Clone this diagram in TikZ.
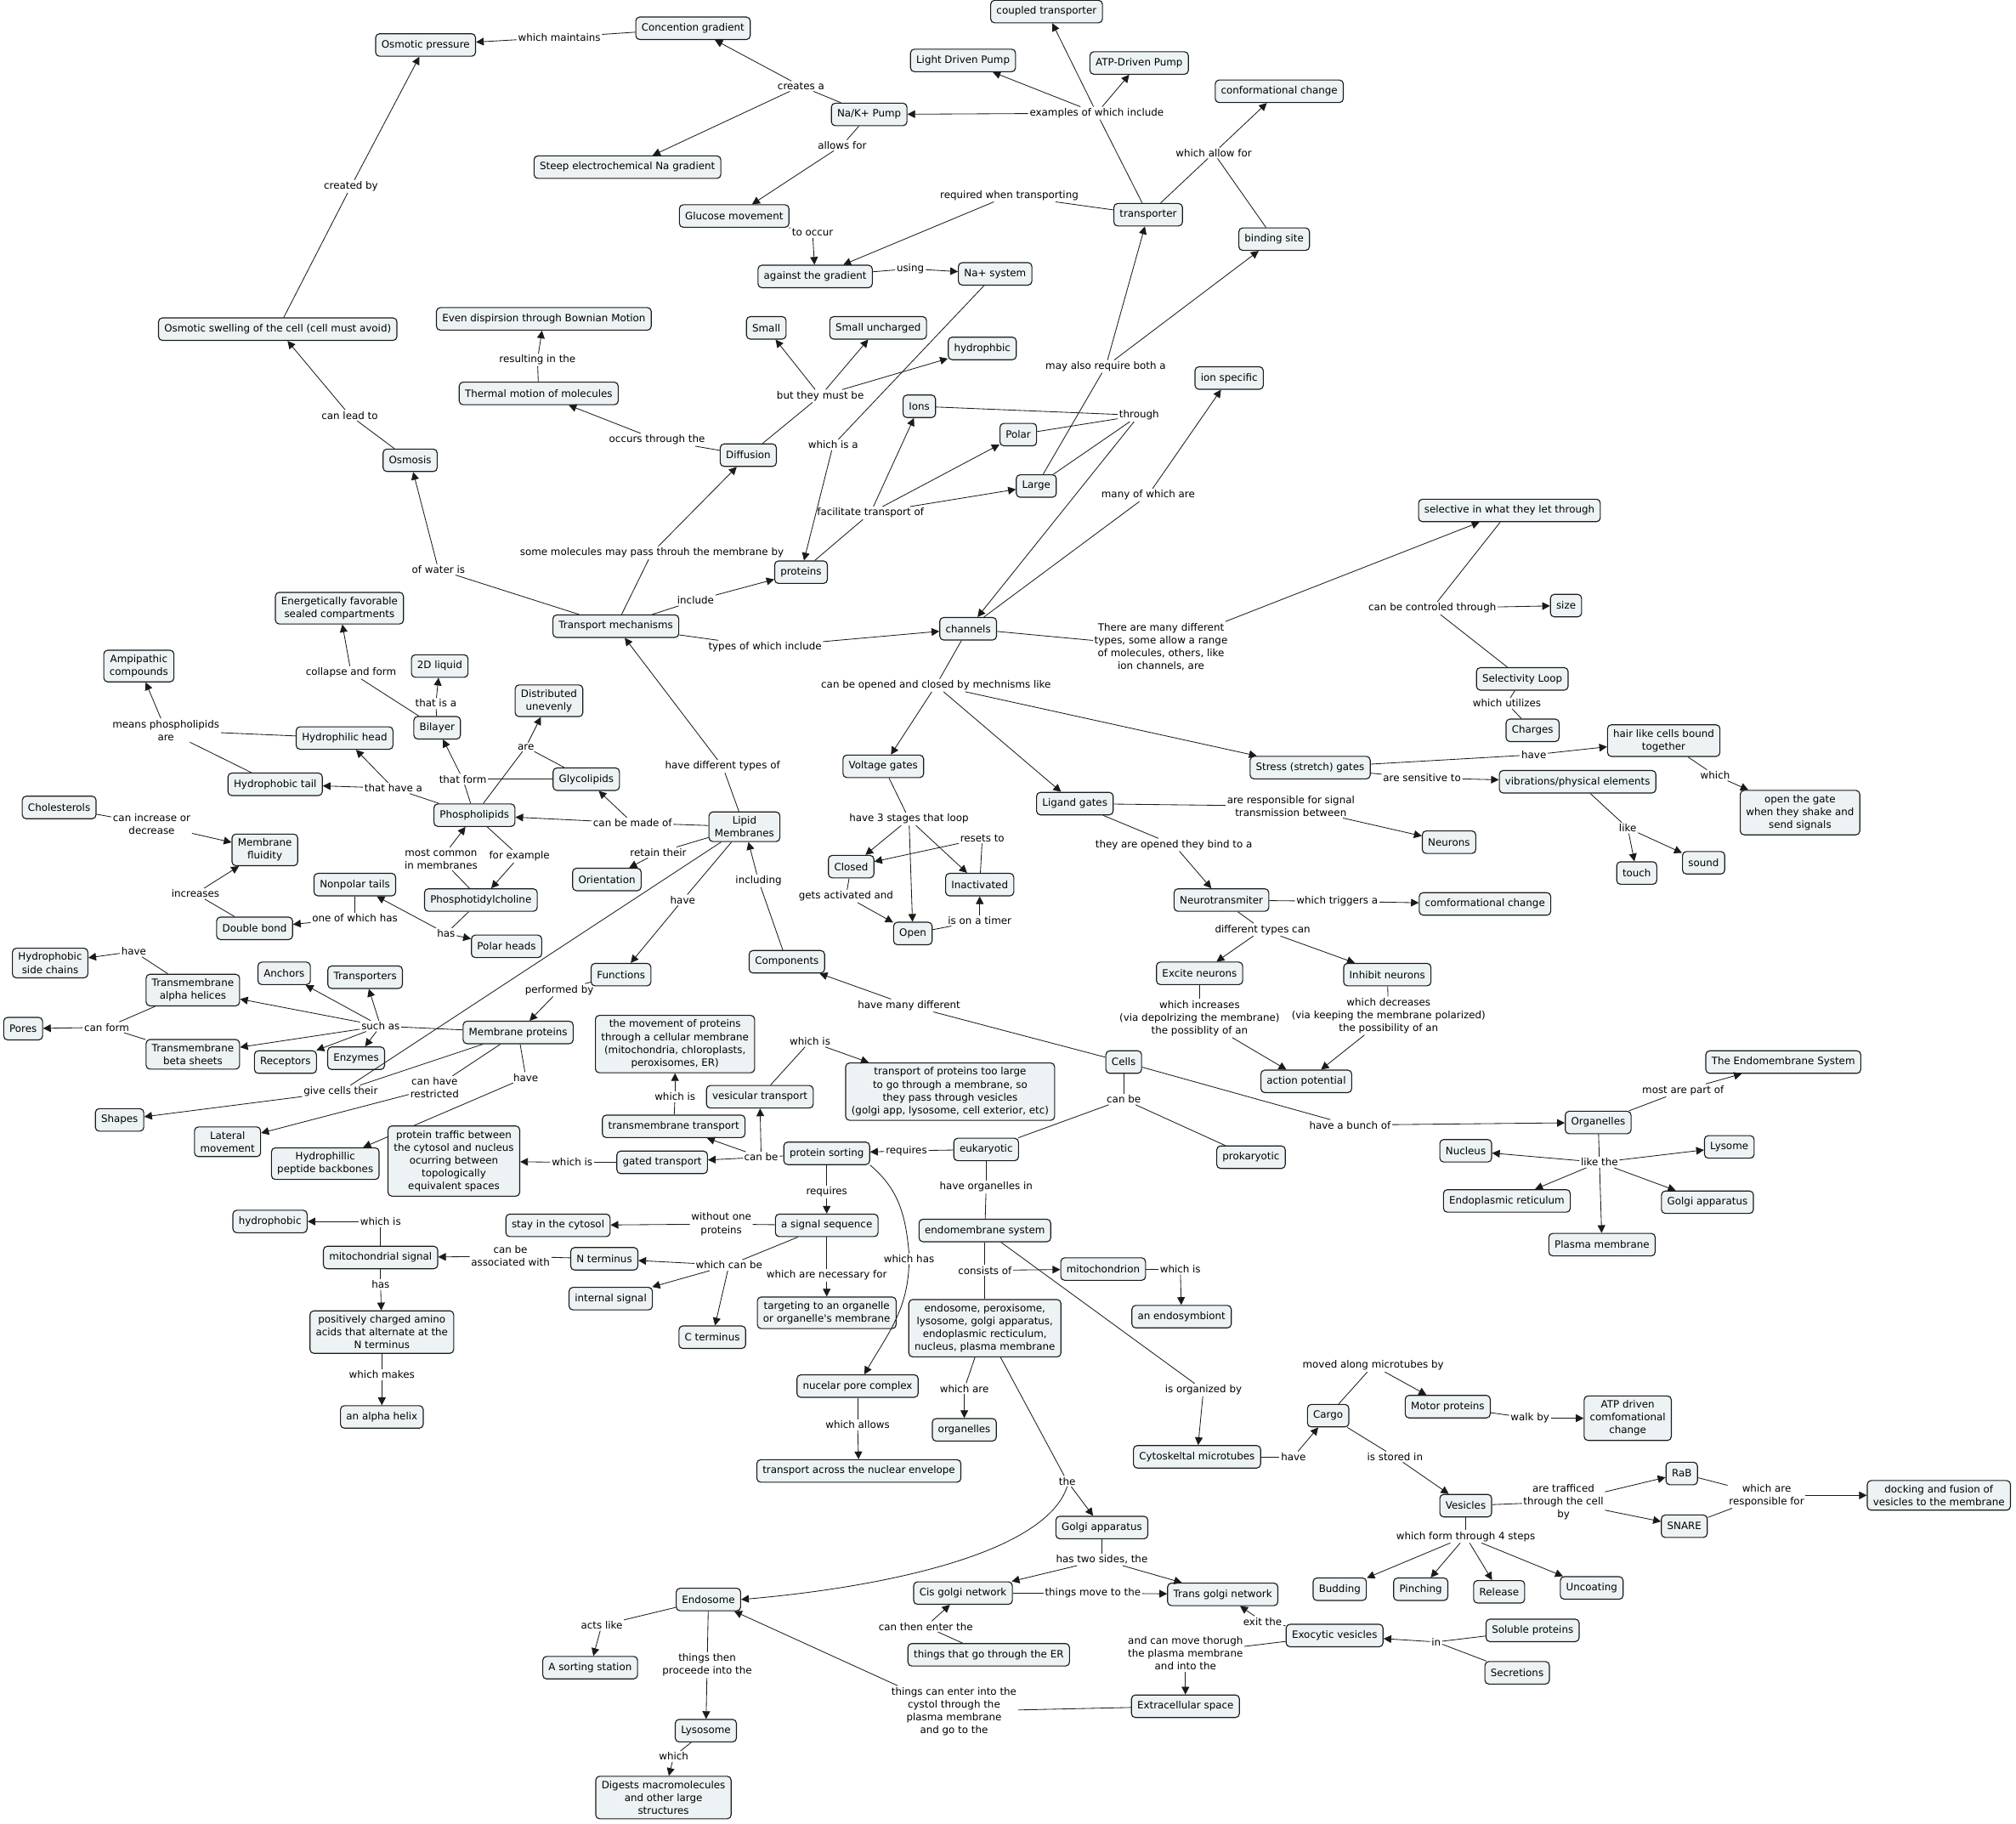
\documentclass[tikz,border=0pt]{standalone}
\usepackage{fontspec}
\usepackage{tikz}
\usetikzlibrary{arrows.meta,positioning}
\newfontfamily\cmapsans{DejaVu Sans}
\definecolor{cmapfill}{HTML}{EDF3F4}
\definecolor{cmapline}{HTML}{1A1A1A}
\tikzset{
  concept/.style={draw=cmapline, line width=0.75pt, rounded corners=3pt, fill=cmapfill,
    inner xsep=4.5pt, inner ysep=3.5pt, minimum height=17.5pt, align=center,
    font=\cmapsans\fontsize{7.85pt}{10pt}\selectfont},
  linkph/.style={inner sep=1pt, align=center, font=\cmapsans\fontsize{7.85pt}{10pt}\selectfont},
  conn/.style={draw=cmapline, line width=0.55pt},
  arr/.style={conn, -{Triangle[length=6pt,width=6pt]}}
}
\begin{document}
\begin{tikzpicture}[x=1pt,y=-1pt]
\useasboundingbox (0,0) rectangle (1568,1418);

% Pumps and gradients
\node[concept] (osmp) at (331,35) {Osmotic pressure};
\node[concept] (concg) at (539,22) {Concention gradient};
\node[concept] (coupt) at (814,9) {coupled transporter};
\node[concept] (ldp) at (749,47) {Light Driven Pump};
\node[concept] (atpp) at (886,49) {ATP-Driven Pump};
\node[concept] (confc) at (995,71) {conformational change};
\node[concept] (nakp) at (676,89) {Na/K+ Pump};
\node[concept] (steep) at (488,130) {Steep electrochemical Na gradient};
\node[concept] (gluc) at (571,168) {Glucose movement};
\node[concept] (trp) at (893,167) {transporter};
\node[concept] (binds) at (991,186) {binding site};
\node[concept] (agr) at (634,215) {against the gradient};
\node[concept] (nasys) at (774,213) {Na+ system};
\node[concept] (swell) at (216,256) {Osmotic swelling of the cell (cell must avoid)};
\node[concept] (evend) at (423,248) {Even dispirsion through Bownian Motion};
\node[concept] (small) at (596,255) {Small};
\node[concept] (smallu) at (683,255) {Small uncharged};
\node[concept] (hphb) at (764,271) {hydrophbic};
\node[concept] (therm) at (419,306) {Thermal motion of molecules};
\node[concept] (ionsp) at (956,294) {ion specific};
\node[concept] (ions) at (715,316) {Ions};
\node[concept] (polar) at (792,338) {Polar};
\node[concept] (osmo) at (319,358) {Osmosis};
\node[concept] (diff) at (582,354) {Diffusion};
\node[concept] (large) at (806,378) {Large};
\node[concept] (selec) at (1174,397) {selective in what they let through};
\node[concept] (prot) at (623,445) {proteins};
\node[concept] (size) at (1218,471) {size};

\node[linkph] (wmaint) at (435,29) {which maintains};
\node[linkph] (creat) at (623,67) {creates a};
\node[linkph] (exinc) at (853,88) {examples of which include};
\node[linkph] (wallow) at (944,119) {which allow for};
\node[linkph] (allowf) at (655,113) {allows for};
\node[linkph] (tooccur) at (632,181) {to occur};
\node[linkph] (reqwt) at (785,152) {required when transporting};
\node[linkph] (using) at (708,209) {using};
\node[linkph] (whisa) at (648,346) {which is a};
\node[linkph] (creby) at (273,145) {created by};
\node[linkph] (leadto) at (272,323) {can lead to};
\node[linkph] (resin) at (418,280) {resulting in the};
\node[linkph] (occth) at (511,342) {occurs through the};
\node[linkph] (butmb) at (638,308) {but they must be};
\node[linkph] (facil) at (677,399) {facilitate transport of};
\node[linkph] (through) at (886,323) {through};
\node[linkph] (mayreq) at (860,285) {may also require both a};
\node[linkph] (manyw) at (893,385) {many of which are};

\draw[conn] (concg) -- (wmaint); \draw[arr] (wmaint) -- (osmp);
\draw[conn] (nakp) -- (creat); \draw[arr] (creat) -- (concg); \draw[arr] (creat) -- (steep);
\draw[conn] (trp) -- (exinc);
\draw[arr] (exinc) -- (nakp); \draw[arr] (exinc) -- (ldp);
\draw[arr] (exinc) -- (atpp); \draw[arr] (exinc) -- (coupt);
\draw[conn] (trp) -- (wallow); \draw[conn] (binds) -- (wallow); \draw[arr] (wallow) -- (confc);
\draw[conn] (nakp) -- (allowf); \draw[arr] (allowf) -- (gluc);
\draw[conn] (gluc) -- (tooccur); \draw[arr] (tooccur) -- (agr);
\draw[conn] (trp) -- (reqwt); \draw[arr] (reqwt) -- (agr);
\draw[conn] (agr) -- (using); \draw[arr] (using) -- (nasys);
\draw[conn] (nasys) -- (whisa); \draw[arr] (whisa) -- (prot);
\draw[conn] (swell) -- (creby); \draw[arr] (creby) -- (osmp);
\draw[conn] (osmo) -- (leadto); \draw[arr] (leadto) -- (swell);
\draw[conn] (therm) -- (resin); \draw[arr] (resin) -- (evend);
\draw[conn] (diff) -- (occth); \draw[arr] (occth) -- (therm);
\draw[conn] (diff) -- (butmb);
\draw[arr] (butmb) -- (small); \draw[arr] (butmb) -- (smallu); \draw[arr] (butmb) -- (hphb);
\draw[conn] (prot) -- (facil);
\draw[arr] (facil) -- (ions); \draw[arr] (facil) -- (polar); \draw[arr] (facil) -- (large);
\draw[conn] (ions) -- (through); \draw[conn] (polar) -- (through); \draw[conn] (large) -- (through);
\draw[conn] (large) -- (mayreq); \draw[arr] (mayreq) -- (trp); \draw[arr] (mayreq) -- (binds);

% Transport mechanisms and channels
\node[concept] (energ) at (264,473) {Energetically favorable\\sealed compartments};
\node[concept] (tmech) at (479,487) {Transport mechanisms};
\node[concept] (chan) at (753,489) {channels};
\node[concept] (sloop) at (1184,528) {Selectivity Loop};
\node[concept] (charg) at (1192,568) {Charges};
\node[concept] (hair) at (1294,576) {hair like cells bound\\together};
\node[concept] (voltg) at (687,596) {Voltage gates};
\node[concept] (stress) at (1019,597) {Stress (stretch) gates};
\node[concept] (vibr) at (1227,608) {vibrations/physical elements};
\node[concept] (ligg) at (836,625) {Ligand gates};
\node[concept] (openg) at (1400,632) {open the gate\\when they shake and\\send signals};
\node[concept] (neur) at (1127,655) {Neurons};
\node[concept] (closed) at (662,674) {Closed};
\node[concept] (inact) at (762,688) {Inactivated};
\node[concept] (touch) at (1273,679) {touch};
\node[concept] (sound) at (1325,671) {sound};
\node[concept] (neurot) at (950,700) {Neurotransmiter};
\node[concept] (comfc) at (1155,703) {comformational change};
\node[concept] (open) at (710,726) {Open};
\node[concept] (excit) at (933,757) {Excite neurons};
\node[concept] (inhib) at (1079,758) {Inhibit neurons};
\node[concept] (actp) at (1016,841) {action potential};

\node[linkph] (ofwat) at (341,443) {of water is};
\node[linkph] (somem) at (507,430) {some molecules may pass throuh the membrane by};
\node[linkph] (incl) at (541,467) {include};
\node[linkph] (typw) at (595,503) {types of which include};
\node[linkph] (manyd) at (903,503) {There are many different\\types, some allow a range\\of molecules, others, like\\ion channels, are};
\node[linkph] (cbct) at (1114,473) {can be controled through};
\node[linkph] (whut) at (1172,547) {which utilizes};
\node[linkph] (cboc) at (728,533) {can be opened and closed by mechnisms like};
\node[linkph] (have1) at (1193,587) {have};
\node[linkph] (which1) at (1334,603) {which};
\node[linkph] (aresens) at (1106,605) {are sensitive to};
\node[linkph] (like1) at (1266,644) {like};
\node[linkph] (resp) at (1004,627) {are responsible for signal\\transmission between};
\node[linkph] (opened) at (913,657) {they are opened they bind to a};
\node[linkph] (trig) at (1040,701) {which triggers a};
\node[linkph] (dtypes) at (982,723) {different types can};
\node[linkph] (incr) at (933,792) {which increases\\(via depolrizing the membrane)\\the possiblity of an};
\node[linkph] (decr) at (1080,790) {which decreases\\(via keeping the membrane polarized)\\the possibility of an};
\node[linkph] (stages) at (707,637) {have 3 stages that loop};
\node[linkph] (resets) at (764,652) {resets to};
\node[linkph] (getsa) at (658,697) {gets activated and};
\node[linkph] (timer) at (762,716) {is on a timer};

\draw[arr] (through) -- (chan);
\draw[conn] (chan) -- (manyw); \draw[arr] (manyw) -- (ionsp);
\draw[conn] (tmech) -- (ofwat); \draw[arr] (ofwat) -- (osmo);
\draw[conn] (tmech) -- (somem); \draw[arr] (somem) -- (diff);
\draw[conn] (tmech) -- (incl); \draw[arr] (incl) -- (prot);
\draw[conn] (tmech) -- (typw); \draw[arr] (typw) -- (chan);
\draw[conn] (chan) -- (manyd); \draw[arr] (manyd) -- (selec);
\draw[conn] (selec) -- (cbct); \draw[conn] (sloop) -- (cbct); \draw[arr] (cbct) -- (size);
\draw[conn] (sloop) -- (whut); \draw[conn] (whut) -- (charg);
\draw[conn] (chan) -- (cboc);
\draw[arr] (cboc) -- (voltg); \draw[arr] (cboc) -- (ligg); \draw[arr] (cboc) -- (stress);
\draw[conn] (stress) -- (have1); \draw[arr] (have1) -- (hair);
\draw[conn] (hair) -- (which1); \draw[arr] (which1) -- (openg);
\draw[conn] (stress) -- (aresens); \draw[arr] (aresens) -- (vibr);
\draw[conn] (vibr) -- (like1); \draw[arr] (like1) -- (touch); \draw[arr] (like1) -- (sound);
\draw[conn] (ligg) -- (resp); \draw[arr] (resp) -- (neur);
\draw[conn] (ligg) -- (opened); \draw[arr] (opened) -- (neurot);
\draw[conn] (neurot) -- (trig); \draw[arr] (trig) -- (comfc);
\draw[conn] (neurot) -- (dtypes); \draw[arr] (dtypes) -- (excit); \draw[arr] (dtypes) -- (inhib);
\draw[conn] (excit) -- (incr); \draw[arr] (incr) -- (actp);
\draw[conn] (inhib) -- (decr); \draw[arr] (decr) -- (actp);
\draw[conn] (voltg) -- (stages);
\draw[arr] (stages) -- (closed); \draw[arr] (stages) -- (inact); \draw[arr] (stages) -- (open);
\draw[conn] (inact) -- (resets); \draw[arr] (resets) -- (closed);
\draw[conn] (closed) -- (getsa); \draw[arr] (getsa) -- (open);
\draw[conn] (open) -- (timer); \draw[arr] (timer) -- (inact);

% Lipid membranes
\node[concept] (ampi) at (108,518) {Ampipathic\\compounds};
\node[concept] (liq2d) at (342,518) {2D liquid};
\node[concept] (distu) at (427,545) {Distributed\\unevenly};
\node[concept] (hhead) at (268,574) {Hydrophilic head};
\node[concept] (bilay) at (340,566) {Bilayer};
\node[concept] (glyco) at (456,606) {Glycolipids};
\node[concept] (htail) at (214,610) {Hydrophobic tail};
\node[concept] (chol) at (46,628) {Cholesterols};
\node[concept] (phosl) at (369,634) {Phospholipids};
\node[concept] (lipm) at (579,643) {Lipid\\Membranes};
\node[concept] (mfluid) at (206,661) {Membrane\\fluidity};
\node[concept] (nptail) at (276,688) {Nonpolar tails};
\node[concept] (orient) at (472,684) {Orientation};
\node[concept] (pchol) at (374,700) {Phosphotidylcholine};
\node[concept] (dbond) at (198,722) {Double bond};
\node[concept] (pheads) at (394,736) {Polar heads};
\node[concept] (func) at (483,758) {Functions};
\node[concept] (comp) at (612,748) {Components};

\node[linkph] (hdiff) at (562,596) {have different types of};
\node[linkph] (cbmo) at (492,640) {can be made of};
\node[linkph] (retain) at (512,663) {retain their};
\node[linkph] (have2) at (531,700) {have};
\node[linkph] (includ) at (590,685) {including};
\node[linkph] (perfb) at (435,770) {performed by};
\node[linkph] (thatf) at (360,606) {that form};
\node[linkph] (thatis) at (339,547) {that is a};
\node[linkph] (collf) at (273,523) {collapse and form};
\node[linkph] (are1) at (409,581) {are};
\node[linkph] (thav) at (306,613) {that have a};
\node[linkph] (meansp) at (129,568) {means phospholipids\\are};
\node[linkph] (cincr) at (118,641) {can increase or\\decrease};
\node[linkph] (increases) at (152,695) {increases};
\node[linkph] (onewh) at (276,714) {one of which has};
\node[linkph] (forex) at (404,666) {for example};
\node[linkph] (mostc) at (343,668) {most common\\in membranes};
\node[linkph] (has1) at (347,726) {has};

\draw[conn] (lipm) -- (hdiff); \draw[arr] (hdiff) -- (tmech);
\draw[conn] (lipm) -- (cbmo); \draw[arr] (cbmo) -- (phosl); \draw[arr] (cbmo) -- (glyco);
\draw[conn] (lipm) -- (retain); \draw[arr] (retain) -- (orient);
\draw[conn] (lipm) -- (have2); \draw[arr] (have2) -- (func);
\draw[conn] (comp) -- (includ); \draw[arr] (includ) -- (lipm);
\draw[conn] (phosl) -- (thatf); \draw[conn] (glyco) -- (thatf); \draw[arr] (thatf) -- (bilay);
\draw[conn] (bilay) -- (thatis); \draw[arr] (thatis) -- (liq2d);
\draw[conn] (bilay) -- (collf); \draw[arr] (collf) -- (energ);
\draw[conn] (phosl) -- (are1); \draw[conn] (glyco) -- (are1); \draw[arr] (are1) -- (distu);
\draw[conn] (phosl) -- (thav); \draw[arr] (thav) -- (htail); \draw[arr] (thav) -- (hhead);
\draw[conn] (hhead) -- (meansp); \draw[conn] (htail) -- (meansp); \draw[arr] (meansp) -- (ampi);
\draw[conn] (chol) -- (cincr); \draw[arr] (cincr) -- (mfluid);
\draw[conn] (dbond) -- (increases); \draw[arr] (increases) -- (mfluid);
\draw[conn] (nptail) -- (onewh); \draw[arr] (onewh) -- (dbond);
\draw[conn] (phosl) -- (forex); \draw[arr] (forex) -- (pchol);
\draw[conn] (pchol) -- (mostc); \draw[arr] (mostc) -- (phosl);
\draw[conn] (pchol) -- (has1); \draw[arr] (has1) -- (nptail); \draw[arr] (has1) -- (pheads);

% Membrane proteins
\node[concept] (hsidec) at (39,749) {Hydrophobic\\side chains};
\node[concept] (anch) at (221,757) {Anchors};
\node[concept] (transps) at (284,760) {Transporters};
\node[concept] (alpha) at (150,770) {Transmembrane\\alpha helices};
\node[concept] (pores) at (18,800) {Pores};
\node[concept] (mprot) at (403,803) {Membrane proteins};
\node[concept] (recep) at (222,826) {Receptors};
\node[concept] (enzy) at (277,823) {Enzymes};
\node[concept] (beta) at (150,820) {Transmembrane\\beta sheets};
\node[concept] (shapes) at (93,871) {Shapes};
\node[concept] (latm) at (177,888) {Lateral\\movement};
\node[concept] (hpep) at (253,905) {Hydrophillic\\peptide backbones};

\node[linkph] (have3) at (104,740) {have};
\node[linkph] (canform) at (83,799) {can form};
\node[linkph] (suchas) at (296,798) {such as};
\node[linkph] (givec) at (265,849) {give cells their};
\node[linkph] (canhr) at (338,846) {can have\\restricted};
\node[linkph] (have4) at (409,838) {have};

\draw[conn] (func) -- (perfb); \draw[arr] (perfb) -- (mprot);
\draw[conn] (alpha) -- (have3); \draw[arr] (have3) -- (hsidec);
\draw[conn] (alpha) -- (canform); \draw[conn] (beta) -- (canform); \draw[arr] (canform) -- (pores);
\draw[conn] (mprot) -- (suchas);
\draw[arr] (suchas) -- (anch); \draw[arr] (suchas) -- (transps); \draw[arr] (suchas) -- (alpha);
\draw[arr] (suchas) -- (beta); \draw[arr] (suchas) -- (recep); \draw[arr] (suchas) -- (enzy);
\draw[conn] (mprot) -- (givec); \draw[conn] (lipm) -- (givec); \draw[arr] (givec) -- (shapes);
\draw[conn] (mprot) -- (canhr); \draw[arr] (canhr) -- (latm);
\draw[conn] (mprot) -- (have4); \draw[arr] (have4) -- (hpep);

% Cells and protein sorting
\node[concept] (movp) at (525,812) {the movement of proteins\\through a cellular membrane\\(mitochondria, chloroplasts,\\peroxisomes, ER)};
\node[concept] (endosys) at (1387,826) {The Endomembrane System};
\node[concept] (cells) at (874,826) {Cells};
\node[concept] (toolg) at (739,849) {transport of proteins too large\\to go through a membrane, so\\they pass through vesicles\\(golgi app, lysosome, cell exterior, etc)};
\node[concept] (vest) at (591,853) {vesicular transport};
\node[concept] (ptraf) at (353,903) {protein traffic between\\the cytosol and nucleus\\ocurring between\\topologically\\equivalent spaces};
\node[concept] (tmt) at (524,876) {transmembrane transport};
\node[concept] (organ) at (1243,873) {Organelles};
\node[concept] (nucl) at (1140,895) {Nucleus};
\node[concept] (lysom) at (1345,892) {Lysome};
\node[concept] (gatt) at (515,904) {gated transport};
\node[concept] (psort) at (643,897) {protein sorting};
\node[concept] (euk) at (767,894) {eukaryotic};
\node[concept] (prok) at (973,900) {prokaryotic};
\node[concept] (endor) at (1172,934) {Endoplasmic reticulum};
\node[concept] (golgi) at (1328,935) {Golgi apparatus};
\node[concept] (hphob2) at (210,950) {hydrophobic};
\node[concept] (stayc) at (434,953) {stay in the cytosol};
\node[concept] (sigs) at (643,953) {a signal sequence};
\node[concept] (endms) at (766,957) {endomembrane system};
\node[concept] (plasm) at (1246,968) {Plasma membrane};
\node[concept] (mitos) at (296,978) {mitochondrial signal};
\node[concept] (nterm) at (470,979) {N terminus};
\node[concept] (mitoc) at (858,987) {mitochondrion};
\node[concept] (ints) at (475,1010) {internal signal};
\node[concept] (endsym) at (919,1024) {an endosymbiont};
\node[concept] (targ) at (643,1021) {targeting to an organelle\\or organelle's membrane};
\node[concept] (cterm) at (554,1040) {C terminus};
\node[concept] (endlist) at (766,1033) {endosome, peroxisome,\\lysosome, golgi apparatus,\\endoplasmic recticulum,\\nucleus, plasma membrane};
\node[concept] (posch) at (297,1036) {positively charged amino\\acids that alternate at the\\N terminus};
\node[concept] (npc) at (667,1078) {nucelar pore complex};
\node[concept] (ahel) at (297,1102) {an alpha helix};
\node[concept] (organ2) at (750,1112) {organelles};
\node[concept] (cytom) at (931,1133) {Cytoskeltal microtubes};
\node[concept] (tane) at (668,1144) {transport across the nuclear envelope};

\node[linkph] (hmany) at (707,782) {have many different};
\node[linkph] (hbunch) at (1050,875) {have a bunch of};
\node[linkph] (canbe1) at (874,855) {can be};
\node[linkph] (mostp) at (1309,848) {most are part of};
\node[linkph] (likethe) at (1244,904) {like the};
\node[linkph] (req1) at (705,895) {requires};
\node[linkph] (canbe2) at (592,900) {can be};
\node[linkph] (whis1) at (630,810) {which is};
\node[linkph] (whis2) at (525,853) {which is};
\node[linkph] (whis3) at (445,904) {which is};
\node[linkph] (req2) at (643,927) {requires};
\node[linkph] (whhas) at (707,979) {which has};
\node[linkph] (without) at (561,952) {without one\\proteins};
\node[linkph] (whcan) at (567,984) {which can be};
\node[linkph] (whnec) at (643,992) {which are necessary for};
\node[linkph] (assoc) at (397,977) {can be\\associated with};
\node[linkph] (whis4) at (296,950) {which is};
\node[linkph] (has2) at (296,999) {has};
\node[linkph] (whmak) at (297,1069) {which makes};
\node[linkph] (whall) at (667,1108) {which allows};
\node[linkph] (hoin) at (767,923) {have organelles in};
\node[linkph] (consof) at (766,988) {consists of};
\node[linkph] (whis5) at (918,987) {which is};
\node[linkph] (isorg) at (936,1081) {is organized by};
\node[linkph] (whare) at (750,1080) {which are};

\draw[conn] (cells) -- (hmany); \draw[arr] (hmany) -- (comp);
\draw[conn] (cells) -- (hbunch); \draw[arr] (hbunch) -- (organ);
\draw[conn] (cells) -- (canbe1); \draw[conn] (canbe1) -- (euk); \draw[conn] (canbe1) -- (prok);
\draw[conn] (organ) -- (mostp); \draw[arr] (mostp) -- (endosys);
\draw[conn] (organ) -- (likethe);
\draw[arr] (likethe) -- (nucl); \draw[arr] (likethe) -- (lysom); \draw[arr] (likethe) -- (endor);
\draw[arr] (likethe) -- (golgi); \draw[arr] (likethe) -- (plasm);
\draw[conn] (euk) -- (req1); \draw[arr] (req1) -- (psort);
\draw[conn] (psort) -- (canbe2);
\draw[arr] (canbe2) -- (vest); \draw[arr] (canbe2) -- (tmt); \draw[arr] (canbe2) -- (gatt);
\draw[conn] (vest) -- (whis1); \draw[arr] (whis1) -- (toolg);
\draw[conn] (tmt) -- (whis2); \draw[arr] (whis2) -- (movp);
\draw[conn] (gatt) -- (whis3); \draw[arr] (whis3) -- (ptraf);
\draw[conn] (psort) -- (req2); \draw[arr] (req2) -- (sigs);
\draw[conn] (psort.south east) to[out=-40,in=95] (whhas.north);
\draw[arr] (whhas.south) to[out=-92,in=60] (npc);
\draw[conn] (sigs) -- (without); \draw[arr] (without) -- (stayc);
\draw[conn] (sigs) -- (whcan);
\draw[arr] (whcan) -- (nterm); \draw[arr] (whcan) -- (ints); \draw[arr] (whcan) -- (cterm);
\draw[conn] (sigs) -- (whnec); \draw[arr] (whnec) -- (targ);
\draw[conn] (nterm) -- (assoc); \draw[arr] (assoc) -- (mitos);
\draw[conn] (mitos) -- (whis4); \draw[arr] (whis4) -- (hphob2);
\draw[conn] (mitos) -- (has2); \draw[arr] (has2) -- (posch);
\draw[conn] (posch) -- (whmak); \draw[arr] (whmak) -- (ahel);
\draw[conn] (npc) -- (whall); \draw[arr] (whall) -- (tane);
\draw[conn] (euk) -- (hoin); \draw[conn] (hoin) -- (endms);
\draw[conn] (endms) -- (consof); \draw[arr] (consof) -- (mitoc); \draw[conn] (consof) -- (endlist);
\draw[conn] (mitoc) -- (whis5); \draw[arr] (whis5) -- (endsym);
\draw[conn] (endms) -- (isorg); \draw[arr] (isorg) -- (cytom);
\draw[conn] (endlist) -- (whare); \draw[arr] (whare) -- (organ2);

% Golgi, endosome and vesicles
\node[concept] (cargo) at (1033,1101) {Cargo};
\node[concept] (motp) at (1126,1094) {Motor proteins};
\node[concept] (atpd) at (1266,1103) {ATP driven\\comfomational\\change};
\node[concept] (rab) at (1308,1146) {RaB};
\node[concept] (dock) at (1508,1163) {docking and fusion of\\vesicles to the membrane};
\node[concept] (vesic) at (1140,1171) {Vesicles};
\node[concept] (golgi2) at (857,1188) {Golgi apparatus};
\node[concept] (snare) at (1310,1187) {SNARE};
\node[concept] (budd) at (1042,1236) {Budding};
\node[concept] (pinch) at (1105,1236) {Pinching};
\node[concept] (relea) at (1166,1238) {Release};
\node[concept] (uncoat) at (1238,1235) {Uncoating};
\node[concept] (endos) at (551,1244) {Endosome};
\node[concept] (cisg) at (749,1239) {Cis golgi network};
\node[concept] (transg) at (951,1240) {Trans golgi network};
\node[concept] (exov) at (1038,1272) {Exocytic vesicles};
\node[concept] (solp) at (1192,1268) {Soluble proteins};
\node[concept] (ergo) at (769,1287) {things that go through the ER};
\node[concept] (sorts) at (459,1297) {A sorting station};
\node[concept] (secr) at (1180,1301) {Secretions};
\node[concept] (extra) at (922,1327) {Extracellular space};
\node[concept] (lysos) at (549,1346) {Lysosome};
\node[concept] (digest) at (516,1398) {Digests macromolecules\\and other large\\structures};

\node[linkph] (the1) at (830,1152) {the};
\node[linkph] (twos) at (857,1213) {has two sides, the};
\node[linkph] (movet) at (850,1239) {things move to the};
\node[linkph] (thenent) at (720,1265) {can then enter the};
\node[linkph] (exitt) at (982,1261) {exit the};
\node[linkph] (in1) at (1117,1277) {in};
\node[linkph] (canmv) at (922,1286) {and can move thorugh\\the plasma membrane\\and into the};
\node[linkph] (canent) at (742,1331) {things can enter into the\\cystol through the\\plasma membrane\\and go to the};
\node[linkph] (actsl) at (468,1264) {acts like};
\node[linkph] (proc) at (550,1295) {things then\\proceede into the};
\node[linkph] (which2) at (524,1366) {which};
\node[linkph] (have5) at (1006,1133) {have};
\node[linkph] (moved) at (1068,1062) {moved along microtubes by};
\node[linkph] (walkb) at (1190,1103) {walk by};
\node[linkph] (stored) at (1085,1133) {is stored in};
\node[linkph] (traff) at (1216,1168) {are trafficed\\through the cell\\by};
\node[linkph] (respf) at (1374,1163) {which are\\responsible for};
\node[linkph] (form4) at (1140,1195) {which form through 4 steps};

\draw[conn] (endlist) -- (the1); \draw[arr] (the1) -- (golgi2);
\draw[arr] (the1.south) .. controls (812,1210) and (680,1235) .. (endos.east);
\draw[conn] (golgi2) -- (twos); \draw[arr] (twos) -- (cisg); \draw[arr] (twos) -- (transg);
\draw[conn] (cisg) -- (movet); \draw[arr] (movet) -- (transg);
\draw[conn] (ergo) -- (thenent); \draw[arr] (thenent) -- (cisg);
\draw[conn] (exov) -- (exitt); \draw[arr] (exitt) -- (transg);
\draw[conn] (solp) -- (in1); \draw[conn] (secr) -- (in1); \draw[arr] (in1) -- (exov);
\draw[conn] (exov) -- (canmv); \draw[arr] (canmv) -- (extra);
\draw[conn] (extra) -- (canent); \draw[arr] (canent) -- (endos);
\draw[conn] (endos) -- (actsl); \draw[arr] (actsl) -- (sorts);
\draw[conn] (endos) -- (proc); \draw[arr] (proc) -- (lysos);
\draw[conn] (lysos) -- (which2); \draw[arr] (which2) -- (digest);
\draw[conn] (cytom) -- (have5); \draw[arr] (have5) -- (cargo);
\draw[conn] (cargo) -- (moved); \draw[arr] (moved) -- (motp);
\draw[conn] (motp) -- (walkb); \draw[arr] (walkb) -- (atpd);
\draw[conn] (cargo) -- (stored); \draw[arr] (stored) -- (vesic);
\draw[conn] (vesic) -- (traff); \draw[arr] (traff) -- (rab); \draw[arr] (traff) -- (snare);
\draw[conn] (rab) -- (respf); \draw[conn] (snare) -- (respf); \draw[arr] (respf) -- (dock);
\draw[conn] (vesic) -- (form4);
\draw[arr] (form4) -- (budd); \draw[arr] (form4) -- (pinch);
\draw[arr] (form4) -- (relea); \draw[arr] (form4) -- (uncoat);
\end{tikzpicture}
\end{document}
